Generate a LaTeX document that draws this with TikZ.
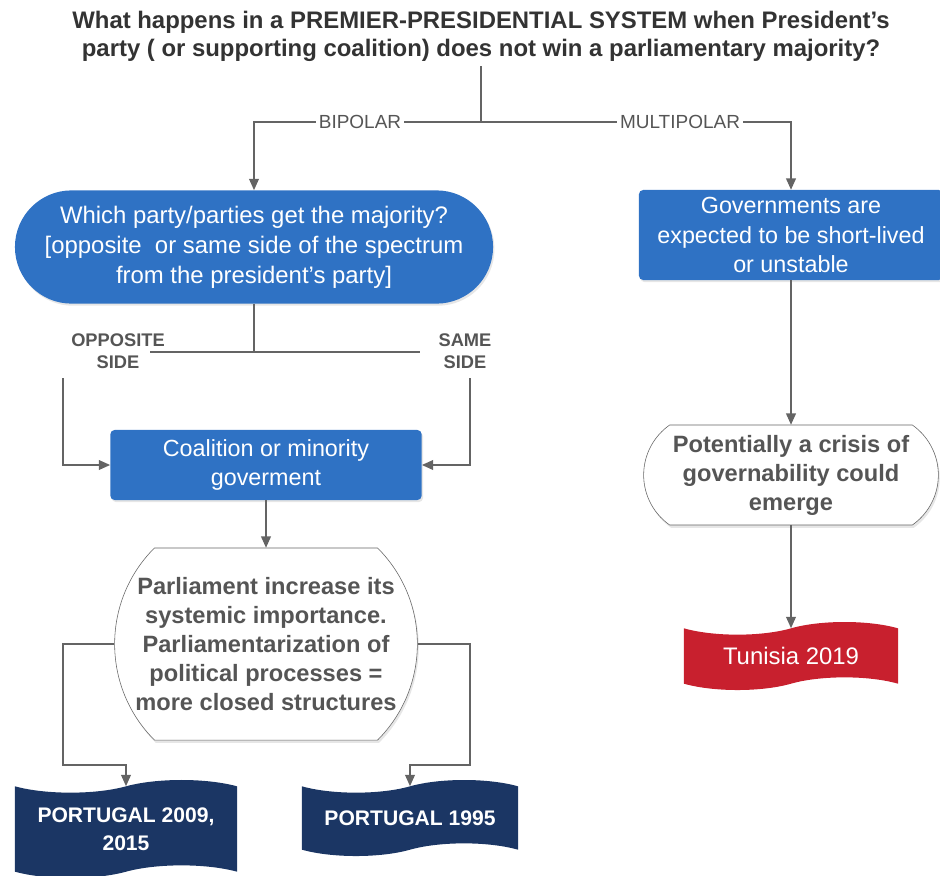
\documentclass[tikz,border=0pt]{standalone}
\usepackage{fontspec}
\setmainfont{Liberation Sans}
\usetikzlibrary{shapes.geometric,shapes.misc,shapes.symbols,arrows.meta,shadows}
\definecolor{boxblue}{RGB}{47,114,196}
\definecolor{navy}{RGB}{27,54,100}
\definecolor{flagred}{RGB}{200,32,46}
\definecolor{linegray}{RGB}{100,100,100}
\definecolor{textgray}{RGB}{85,85,85}
\tikzset{
  arr/.style={-{Triangle[width=7pt,length=8pt]},linegray,thick},
  ln/.style={linegray,thick},
  bluebox/.style={fill=boxblue,text=white,align=center,font=\fontsize{16.6}{21}\selectfont,
    drop shadow={opacity=0.2,shadow xshift=1pt,shadow yshift=-1.5pt}},
  roundbox/.style={rounded rectangle,rounded rectangle arc length=90,draw=linegray,fill=white,
    text=textgray,align=center,font=\bfseries\fontsize{16.8}{20.6}\selectfont,
    drop shadow={opacity=0.2,shadow xshift=1pt,shadow yshift=-2pt}},
  flag/.style={tape,tape bend top=in and out,tape bend bottom=in and out,tape bend height=9pt,
    text=white,align=center,inner sep=0pt},
  branch/.style={text=textgray,font=\fontsize{13.5}{16}\selectfont,fill=white,inner sep=2pt},
  sidelabel/.style={text=textgray,font=\bfseries\fontsize{13}{16}\selectfont,align=center},
}
\begin{document}
\begin{tikzpicture}[x=0.025cm,y=-0.025cm]
\useasboundingbox (0,0) rectangle (940,875);
\node (title) [align=center,text=black!80,font=\bfseries\fontsize{17}{20}\selectfont] at (481,36)
  {What happens in a PREMIER-PRESIDENTIAL SYSTEM when President's\\
   party ( or supporting coalition) does not win a parliamentary majority?};

\coordinate (split) at (481,122);
\node (bip) [branch] at (360,122) {BIPOLAR};
\node (mul) [branch] at (680,122) {MULTIPOLAR};

\node (ell) [rounded rectangle,bluebox,font=\fontsize{17}{21.3}\selectfont,minimum width=11.95cm,minimum height=2.83cm,
  inner xsep=0pt,inner ysep=0pt] at (254,247)
  {Which party/parties get the majority?\\ {[}opposite\ \ or same side of the spectrum\\ from the president's party{]}};
\node (gov) [rectangle,rounded corners=3pt,bluebox,minimum width=7.6cm,minimum height=2.25cm] at (791,235)
  {Governments are\\ expected to be short-lived\\ or unstable};

\coordinate (jn) at (254,352);
\coordinate (oe) at (150,352);
\coordinate (se) at (420,352);
\coordinate (os) at (63,378);
\coordinate (ss) at (470,378);
\node (opp) [sidelabel] at (118,351) {OPPOSITE\\ SIDE};
\node (same) [sidelabel] at (465,351) {SAME\\ SIDE};

\node (coal) [rectangle,rounded corners=3pt,bluebox,minimum width=7.78cm,minimum height=1.75cm] at (266,465)
  {Coalition or minority\\ goverment};
\node (parl) [roundbox,minimum width=7.8cm,minimum height=4.8cm] at (266,644)
  {Parliament increase its\\ systemic importance.\\ Parliamentarization of\\ political processes =\\ more closed structures};
\node (crisis) [roundbox,rounded rectangle arc length=110,minimum width=7.6cm,minimum height=2.5cm] at (791,475)
  {Potentially a crisis of\\ governability could\\ emerge};

\coordinate (lc) at (63,765);
\coordinate (rc) at (470,765);
\node (pt1) [flag,fill=navy,font=\bfseries\fontsize{15}{20}\selectfont,minimum width=5.55cm,minimum height=2.45cm] at (126,829)
  {PORTUGAL 2009,\\ 2015};
\node (pt2) [flag,fill=navy,font=\bfseries\fontsize{15}{20}\selectfont,minimum width=5.4cm,minimum height=1.9cm] at (410,818)
  {PORTUGAL 1995};
\node (tun) [flag,fill=flagred,font=\fontsize{17}{20}\selectfont,minimum width=5.35cm,minimum height=1.7cm] at (791,656)
  {Tunisia 2019};

% top split
\draw [ln] (title.south) -- (split);
\draw [ln] (split) -- (bip);
\draw [ln] (split) -- (mul);
\draw [arr] (bip) -| (ell.north);
\draw [arr] (mul) -| (gov.north);

% bipolar branch
\draw [ln] (ell.south) -- (jn);
\draw [ln] (oe) -- (se);
\draw [arr] (os) |- (coal.west);
\draw [arr] (ss) |- (coal.east);
\draw [arr] (coal.south) -- (parl.north);
\draw [arr] (parl.west) -| (lc) -| (pt1.north);
\draw [arr] (parl.east) -| (rc) -| (pt2.north);

% multipolar branch
\draw [arr] (gov.south) -- (crisis.north);
\draw [arr] (crisis.south) -- (tun.north);
\end{tikzpicture}
\end{document}
